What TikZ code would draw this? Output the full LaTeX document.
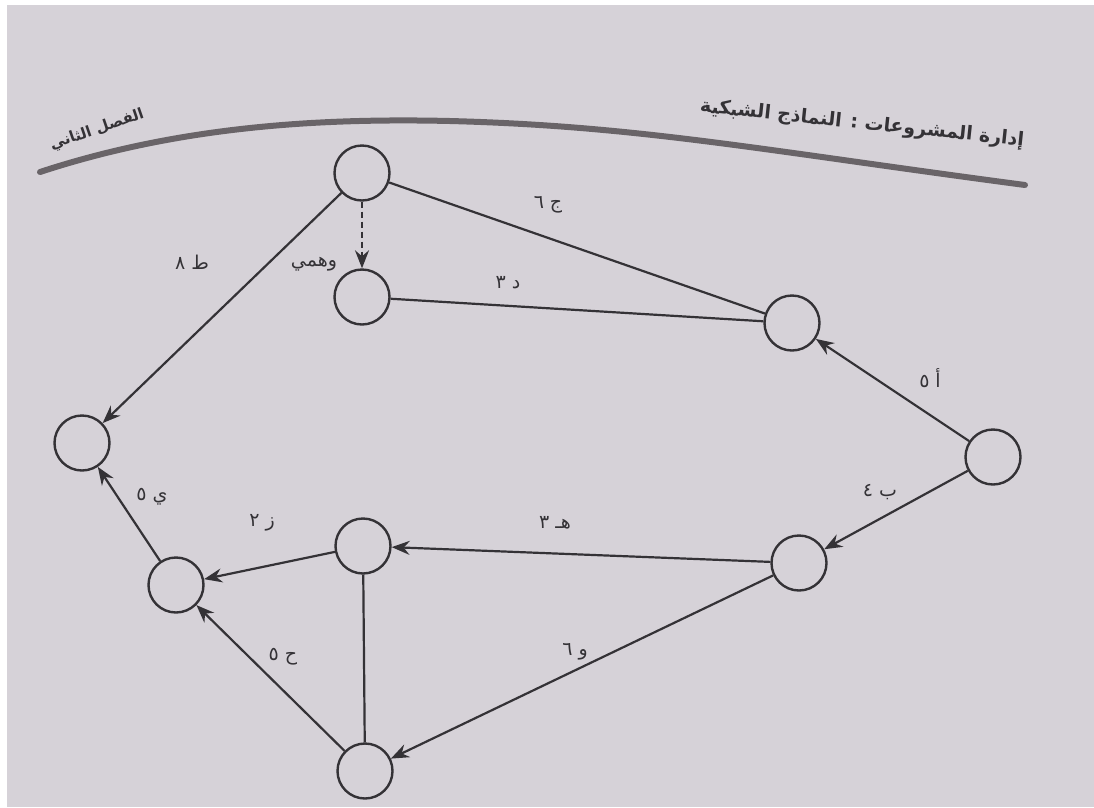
\documentclass[tikz,border=0pt]{standalone}
\usepackage{fontspec}
\newfontfamily\arabicfont[Script=Arabic]{DejaVu Sans}
\TeXXeTstate=1
\usetikzlibrary{arrows.meta}
\definecolor{paper}{RGB}{214,210,216}
\definecolor{ink}{RGB}{52,50,54}
\definecolor{rule}{RGB}{105,100,104}
\tikzset{
  ev/.style={circle,draw=ink,line width=2.4pt,minimum width=52pt,minimum height=55pt,inner sep=0pt},
  act/.style={draw=ink,line width=2.2pt},
  actarr/.style={act,-{Stealth[length=18pt,width=14pt,inset=6pt]}},
  lab/.style={text=ink,font=\arabicfont\fontsize{19}{19}\selectfont},
  hdr/.style={text=ink,font=\arabicfont\bfseries\fontsize{19}{19}\selectfont}
}
\begin{document}
\begin{tikzpicture}[x=1pt,y=-1pt]
\fill[white] (0,0) rectangle (1094,807);
\fill[paper] (7,5) rectangle (1094,807);
\useasboundingbox (0,0) rectangle (1094,807);
% header rule and texts
\draw[rule,line width=6pt,line cap=round] (40,172) .. controls (180,126) and (320,118) .. (450,121) .. controls (640,126) and (760,150) .. (1025,185);
\node[hdr,rotate=-6] (htitle) at (862,124) {\beginR إدارة المشروعات : النماذج الشبكية\endR};
\node[hdr,rotate=19,font=\arabicfont\bfseries\fontsize{15}{15}\selectfont] (hchap) at (97,130) {\beginR الفصل الثاني\endR};
% events
\node[ev] (n1) at (362,173) {};
\node[ev] (n2) at (362,297) {};
\node[ev] (n3) at (792,323) {};
\node[ev] (n4) at (993,457) {};
\node[ev] (n5) at (799,563) {};
\node[ev] (n6) at (363,546) {};
\node[ev] (n7) at (176,585) {};
\node[ev] (n8) at (82,443) {};
\node[ev] (n9) at (365,771) {};
% activities
\draw[actarr] (n4) -- (n3);
\draw[actarr] (n4) -- (n5);
\draw[act] (n3) -- (n1);
\draw[act] (n3) -- (n2);
\draw[actarr,dashed,dash pattern=on 6pt off 4pt] (n1) -- (n2);
\draw[actarr] (n1) -- (n8);
\draw[actarr] (n5) -- (n6);
\draw[actarr] (n5) -- (n9);
\draw[actarr] (n6) -- (n7);
\draw[act] (n6) -- (n9);
\draw[actarr] (n9) -- (n7);
\draw[actarr] (n7) -- (n8);
% labels
\node[lab] (lj) at (548,205) {\beginR ج ٦\endR};
\node[lab] (ld) at (508,283) {\beginR د ٣\endR};
\node[lab] (lt) at (192,262) {\beginR ط ٨\endR};
\node[lab] (lw) at (314,264) {\beginR وهمي\endR};
\node[lab] (la) at (930,378) {\beginR أ ٥\endR};
\node[lab] (lb) at (880,492) {\beginR ب ٤\endR};
\node[lab] (lh) at (555,523) {\beginR هـ ٣\endR};
\node[lab] (lz) at (262,523) {\beginR ز ٢\endR};
\node[lab] (ly) at (152,497) {\beginR ي ٥\endR};
\node[lab] (lha) at (283,657) {\beginR ح ٥\endR};
\node[lab] (lwa) at (575,652) {\beginR و ٦\endR};
\end{tikzpicture}
\end{document}
